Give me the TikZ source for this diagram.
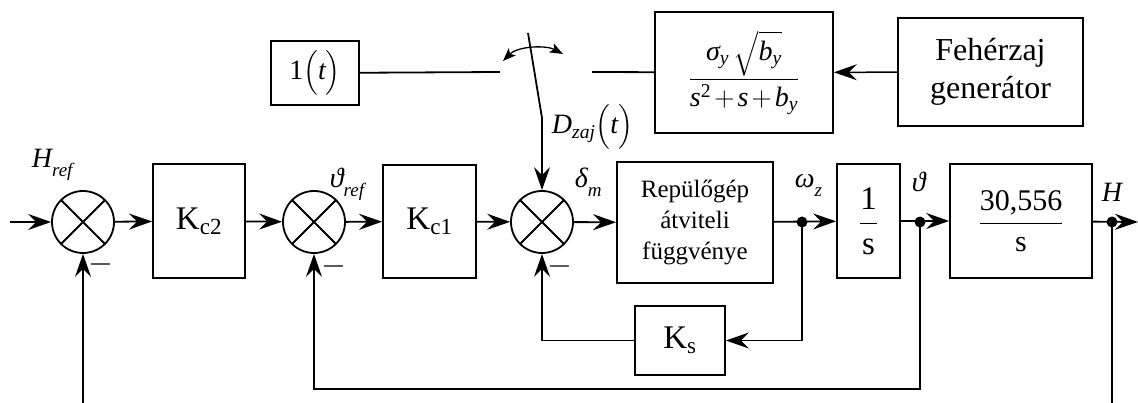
\RequirePackage{fix-cm}
\documentclass[tikz,border=0pt]{standalone}
\usepackage{amsmath}
\usepackage{fontspec}
\setmainfont{Liberation Serif}
\usetikzlibrary{arrows.meta}
\newcommand{\mi}[1]{\text{\itshape #1}}
\newcommand{\mr}[1]{\text{\upshape #1}}
\newcommand{\lsub}[1]{\raisebox{-0.3em}{\fontsize{19}{19}\selectfont\itshape #1}}
\begin{document}
\begin{tikzpicture}[x=1pt,y=-1pt,line width=1.8pt,
  arr/.style={-{Stealth[length=23pt,width=16pt,inset=8pt]}},
  sarr/.style={{Stealth[length=13pt,width=10pt,inset=3pt]}-{Stealth[length=13pt,width=10pt,inset=3pt]}},
  blk/.style={draw,rectangle,inner sep=0pt,align=center,font=\fontsize{28}{33}\selectfont},
  sumj/.style={draw,circle,minimum size=62pt,inner sep=0pt,
    path picture={\draw[line width=1.8pt] (path picture bounding box.north west) -- (path picture bounding box.south east)
      (path picture bounding box.north east) -- (path picture bounding box.south west);}},
  lbl/.style={anchor=base west,inner sep=0pt,font=\fontsize{28}{33}\selectfont},
  mns/.style={inner sep=0pt,font=\fontsize{32}{36}\selectfont},
  dot/.style={circle,fill,inner sep=0pt,minimum size=11pt}]
\useasboundingbox (0,0) rectangle (1138,403);
% main chain
\node[sumj] (s1) at (83,222) {};
\node[blk,minimum width=92pt,minimum height=114pt] (kc2) at (199,221) {\fontsize{33}{36}\selectfont K\textsubscript{c2}};
\node[sumj] (s2) at (314,222) {};
\node[blk,minimum width=93pt,minimum height=113pt] (kc1) at (429.5,221.5) {\fontsize{33}{36}\selectfont K\textsubscript{c1}};
\node[sumj] (s3) at (542,222) {};
\node[blk,minimum width=156pt,minimum height=121pt,font=\fontsize{25}{31}\selectfont] (rep) at (695,222.5) {Repülőgép\\átviteli\\függvénye};
\node[blk,minimum width=63pt,minimum height=114pt,font=\fontsize{33}{38}\selectfont] (ones) at (868.5,221) {$\dfrac{\mr{1}}{\mr{s}}$};
\node[blk,minimum width=142pt,minimum height=114pt,font=\fontsize{30}{36}\selectfont] (g) at (1021,221) {$\dfrac{\mr{30,556}}{\mr{s}}$};
\node[blk,minimum width=90pt,minimum height=69pt] (ks) at (680,340.5) {\fontsize{33}{36}\selectfont K\textsubscript{s}};
% top part
\node[blk,minimum width=88pt,minimum height=64pt] (stp) at (315,73) {$\mr{1}\big(\mi{t}\big)$};
\node[blk,minimum width=178pt,minimum height=121pt] (filt) at (744,72.5) {$\dfrac{\mi{σ}_{\mi{y}}\,\sqrt{\mi{b}_{\mi{y}}}}{\mi{s}^{\mr{2}}\mkern-2mu+\mkern-2mu\mi{s}\mkern-2mu+\mkern-2mu\mi{b}_{\mi{y}}}$};
\node[blk,minimum width=185pt,minimum height=108pt,font=\fontsize{32}{38}\selectfont] (feh) at (990.5,72) {Fehérzaj\\generátor};
% coordinates
\coordinate (in) at (10,222);
\coordinate (out) at (1138,222);
\node[dot] (d1) at (802,222) {};
\node[dot] (d2) at (920,222) {};
\node[dot] (d3) at (1112,222) {};
\coordinate (c2) at (920,389);
\coordinate (fb1) at (83,403);
\coordinate (fb3) at (1112,403);
\coordinate (swl) at (500,72);
\coordinate (swr) at (592,72);
\coordinate (swa) at (528,33);
\coordinate (swb) at (542,118);
\coordinate (arcl) at (503,61);
\coordinate (arcr) at (563,54);
% connectors
\draw[arr] (in) -- (s1);
\draw[arr] (s1) -- (kc2);
\draw[arr] (kc2) -- (s2);
\draw[arr] (s2) -- (kc1);
\draw[arr] (kc1) -- (s3);
\draw[arr] (s3) -- (rep);
\draw[arr] (rep) -- (ones);
\draw[arr] (ones) -- (g);
\draw[arr] (g) -- (out);
\draw[arr] (d1.center) |- (ks);
\draw[arr] (ks) -| (s3);
\draw[arr] (d2.center) -- (c2) -| (s2);
\draw (d3.center) -- (fb3);
\draw[arr] (fb1) -- (s1);
\draw (stp) -- (swl);
\draw (swr) -- (filt);
\draw (swa) -- (swb);
\draw[arr] (swb) -- (s3);
\draw[arr,line width=1.5pt] (feh) -- (filt);
\draw[sarr,line width=1.3pt] (arcl) .. controls (518,46) and (546,45) .. (arcr);
% labels
\node[lbl] (lh) at (31,168) {\mi{H}\lsub{ref}};
\node[lbl] (lt) at (329,188) {\mi{ϑ}\lsub{ref}};
\node[lbl] (ld) at (574,188) {\mi{δ}\lsub{m}};
\node[lbl] (lw) at (794,188) {\mi{ω}\lsub{z}};
\node[lbl] (lt2) at (911,192) {\mi{ϑ}};
\node[lbl] (lH) at (1101,202) {\mi{H}};
\node[lbl] (lD) at (551,134) {$\mi{D}_{\mi{zaj}}\big(\mi{t}\big)$};
\node[mns] (m1) at (101,265) {$-$};
\node[mns] (m2) at (334,267) {$-$};
\node[mns] (m3) at (560,267) {$-$};
\end{tikzpicture}
\end{document}
